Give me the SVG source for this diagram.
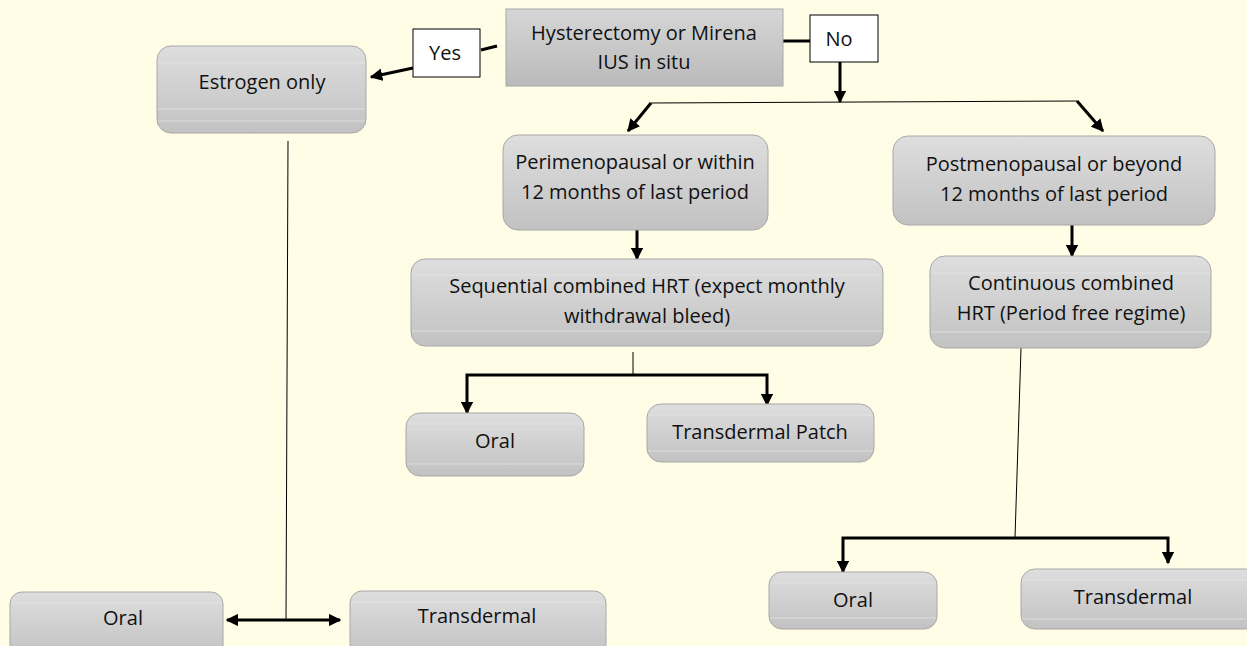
<svg xmlns="http://www.w3.org/2000/svg" width="1247" height="646" viewBox="0 0 1247 646">
<defs>
<linearGradient id="g" x1="0" y1="0" x2="0" y2="1">
<stop offset="0" stop-color="#dedede"/>
<stop offset="1" stop-color="#c2c2c2"/>
</linearGradient>
<linearGradient id="g2" x1="0" y1="0" x2="0" y2="1">
<stop offset="0" stop-color="#d6d6d6"/>
<stop offset="1" stop-color="#bababa"/>
</linearGradient>
<marker id="ah" viewBox="0 0 10 10" refX="9" refY="5" markerWidth="4.2" markerHeight="4.2" orient="auto-start-reverse" markerUnits="strokeWidth">
<path d="M0,0 L10,5 L0,10 z" fill="#000"/>
</marker>
</defs>
<style>
.bx{fill:url(#g);stroke:#a8a8a8;stroke-width:1}
.sq{fill:url(#g2);stroke:#a8a8a8;stroke-width:1}
.lb{fill:#fff;stroke:#000;stroke-width:1}
.gl{stroke:#e8e8e8;stroke-width:1;opacity:0.7}
text{font-family:"Open Sans","Liberation Sans",sans-serif;font-size:20px;fill:#111;text-anchor:middle}
.th{fill:none;stroke:#000;stroke-width:3}
.tn{fill:none;stroke:#000;stroke-width:1}
</style>
<rect width="1247" height="646" fill="#fffde5"/>

<g id="connectors">
<line class="th" x1="497" y1="46" x2="481" y2="50"/>
<line class="th" x1="413" y1="68" x2="371" y2="77" marker-end="url(#ah)"/>
<line class="th" x1="783" y1="41" x2="810" y2="41"/>
<line class="th" x1="840" y1="62" x2="840" y2="102" marker-end="url(#ah)"/>
<line class="tn" x1="651" y1="103" x2="1077" y2="101"/>
<line class="th" x1="651" y1="103" x2="628" y2="131" marker-end="url(#ah)"/>
<line class="th" x1="1077" y1="101" x2="1103" y2="131" marker-end="url(#ah)"/>
<line class="th" x1="637" y1="230" x2="637" y2="259" marker-end="url(#ah)"/>
<line class="th" x1="1072" y1="225" x2="1072" y2="256" marker-end="url(#ah)"/>
<line class="tn" x1="633" y1="352" x2="633" y2="375"/>
<polyline class="th" points="467,413 467,375 767,375 767,405" marker-start="url(#ah)" marker-end="url(#ah)"/>
<line class="tn" x1="1021" y1="348" x2="1015" y2="538"/>
<polyline class="th" points="843,572 843,538 1168,538 1168,563" marker-start="url(#ah)" marker-end="url(#ah)"/>
<line class="tn" x1="288" y1="141" x2="286" y2="620"/>
<line class="th" x1="227" y1="620" x2="340" y2="620" marker-start="url(#ah)" marker-end="url(#ah)"/>
</g>

<g id="n-hyst">
<rect class="sq" x="506" y="9" width="277" height="77"/>
<text x="644" y="40">Hysterectomy or Mirena</text>
<text x="644" y="69">IUS in situ</text>
</g>
<g id="n-yes">
<rect class="lb" x="413" y="29" width="67" height="48"/>
<text x="445" y="60">Yes</text>
</g>
<g id="n-no">
<rect class="lb" x="810" y="15" width="68" height="47"/>
<text x="839" y="46">No</text>
</g>
<g id="n-estrogen">
<rect class="bx" x="157" y="46" width="209" height="87" rx="14"/>
<line class="gl" x1="158" y1="63" x2="365" y2="63"/>
<line class="gl" x1="158" y1="109" x2="365" y2="109"/>
<line class="gl" x1="158" y1="121" x2="365" y2="121"/>
<text x="262" y="89">Estrogen only</text>
</g>
<g id="n-peri">
<rect class="bx" x="503" y="135" width="265" height="95" rx="15"/>
<text x="635" y="169">Perimenopausal or within</text>
<text x="635" y="199">12 months of last period</text>
</g>
<g id="n-post">
<rect class="bx" x="893" y="136" width="322" height="89" rx="15"/>
<text x="1054" y="171">Postmenopausal or beyond</text>
<text x="1054" y="201">12 months of last period</text>
</g>
<g id="n-seq">
<rect class="bx" x="411" y="259" width="472" height="87" rx="14"/>
<line class="gl" x1="412" y1="275" x2="882" y2="275"/>
<line class="gl" x1="412" y1="331" x2="882" y2="331"/>
<text x="647" y="293">Sequential combined HRT (expect monthly</text>
<text x="647" y="323">withdrawal bleed)</text>
</g>
<g id="n-cont">
<rect class="bx" x="930" y="256" width="281" height="92" rx="15"/>
<line class="gl" x1="931" y1="273" x2="1210" y2="273"/>
<line class="gl" x1="931" y1="332" x2="1210" y2="332"/>
<text x="1071" y="290">Continuous combined</text>
<text x="1071" y="320">HRT (Period free regime)</text>
</g>
<g id="n-oral-mid">
<rect class="bx" x="406" y="413" width="178" height="63" rx="14"/>
<line class="gl" x1="407" y1="424" x2="583" y2="424"/>
<line class="gl" x1="407" y1="464" x2="583" y2="464"/>
<text x="495" y="448">Oral</text>
</g>
<g id="n-patch">
<rect class="bx" x="647" y="404" width="227" height="58" rx="14"/>
<line class="gl" x1="648" y1="415" x2="873" y2="415"/>
<line class="gl" x1="648" y1="451" x2="873" y2="451"/>
<text x="760" y="439">Transdermal Patch</text>
</g>
<g id="n-oral-right">
<rect class="bx" x="769" y="572" width="168" height="57" rx="13"/>
<line class="gl" x1="770" y1="583" x2="936" y2="583"/>
<line class="gl" x1="770" y1="618" x2="936" y2="618"/>
<text x="853" y="607">Oral</text>
</g>
<g id="n-trans-right">
<rect class="bx" x="1021" y="569" width="240" height="60" rx="14"/>
<line class="gl" x1="1022" y1="580" x2="1246" y2="580"/>
<line class="gl" x1="1022" y1="619" x2="1246" y2="619"/>
<text x="1133" y="604">Transdermal</text>
</g>
<g id="n-oral-left">
<rect class="bx" x="10" y="592" width="213" height="66" rx="12"/>
<line class="gl" x1="11" y1="603" x2="222" y2="603"/>
<text x="123" y="625">Oral</text>
</g>
<g id="n-trans-left">
<rect class="bx" x="350" y="591" width="256" height="66" rx="12"/>
<line class="gl" x1="351" y1="602" x2="605" y2="602"/>
<text x="477" y="623">Transdermal</text>
</g>
</svg>
